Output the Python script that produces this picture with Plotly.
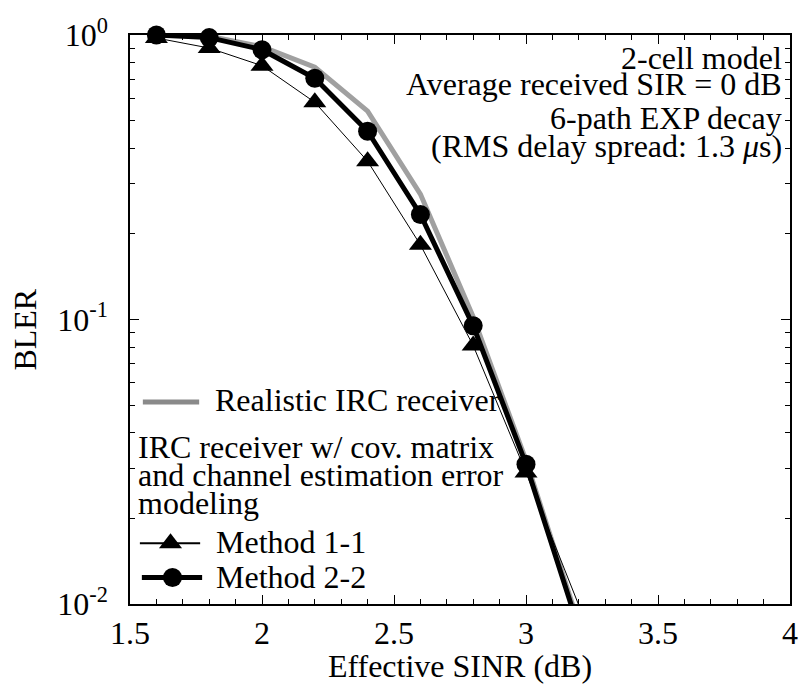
import plotly.graph_objects as go

# ---- data ----
sinr = [1.6, 1.8, 2.0, 2.2, 2.4, 2.6, 2.8, 3.0, 3.2]
bler_realistic = [1.0, 0.99, 0.91, 0.77, 0.54, 0.276, 0.102, 0.032, 0.0085]
bler_method11 = [0.976, 0.90, 0.78, 0.58, 0.36, 0.183, 0.081, 0.029, 0.0099]
bler_method22 = [1.0, 0.979, 0.888, 0.705, 0.459, 0.234, 0.095, 0.031, 0.0082]
n_marked = 8  # markers drawn on the first 8 points only

x_ticks = [1.5, 2, 2.5, 3, 3.5, 4]
x_ticklabels = ["1.5", "2", "2.5", "3", "3.5", "4"]
y_ticks = [0.01, 0.1, 1]
y_ticklabels = ["10<sup>-2</sup>", "10<sup>-1</sup>", "10<sup>0</sup>"]

info_lines = ["2-cell model", "Average received SIR = 0 dB",
              "6-path EXP decay", "(RMS delay spread: 1.3 <i>μ</i>s)"]

FONT = "Liberation Serif, Times New Roman, Times, serif"
FS = 32
W, H = 808, 684
L, R, T, B = 130, 798, 35, 615


def px(xp):
    return (xp - L) / (R - L)


def py(yp):
    return (B - yp) / (B - T)


def msizes(n, s):
    return [s if i < n_marked else 0 for i in range(n)]


NOLINE = dict(width=0, color="black")

fig = go.Figure()
fig.add_trace(go.Scatter(x=sinr, y=bler_realistic, mode="lines",
                         line=dict(color="#a0a0a0", width=5), showlegend=False))
fig.add_trace(go.Scatter(x=sinr, y=bler_method11, mode="lines+markers",
                         line=dict(color="black", width=1),
                         marker=dict(symbol="triangle-up", size=msizes(len(sinr), 20),
                                     color="black", opacity=1, line=NOLINE),
                         cliponaxis=False, showlegend=False))
fig.add_trace(go.Scatter(x=sinr, y=bler_method22, mode="lines+markers",
                         line=dict(color="black", width=5),
                         marker=dict(symbol="circle", size=msizes(len(sinr), 19),
                                     color="black", opacity=1, line=NOLINE),
                         cliponaxis=False, showlegend=False))

# legend samples (overlay pixel-space axes)
fig.add_trace(go.Scatter(x=[171], y=[553], xaxis="x2", yaxis="y2", mode="markers",
                         marker=dict(symbol="triangle-up", size=20, color="black", line=NOLINE),
                         cliponaxis=False, showlegend=False))
fig.add_trace(go.Scatter(x=[173], y=[588], xaxis="x2", yaxis="y2", mode="markers",
                         marker=dict(symbol="circle", size=19, color="black", line=NOLINE),
                         cliponaxis=False, showlegend=False))

shapes = [
    dict(type="line", xref="paper", yref="paper", x0=px(143), x1=px(200), y0=py(409), y1=py(409),
         line=dict(color="#8a8a8a", width=5)),
    dict(type="line", xref="paper", yref="paper", x0=px(140), x1=px(201), y0=py(553), y1=py(553),
         line=dict(color="black", width=2)),
    dict(type="line", xref="paper", yref="paper", x0=px(142), x1=px(203), y0=py(588), y1=py(588),
         line=dict(color="black", width=5)),
]

annotations = []
for txt, yc in zip(info_lines, [58, 85, 120, 148]):
    annotations.append(dict(text=txt, xref="paper", yref="paper", x=px(792), y=py(yc),
                            xanchor="right", yanchor="middle", showarrow=False,
                            font=dict(family=FONT, size=FS, color="black")))
leg_texts = [("Realistic IRC receiver", 214, 407),
             ("IRC receiver w/ cov. matrix", 136, 455),
             ("and channel estimation error", 136, 484),
             ("modeling", 136, 512),
             ("Method 1-1", 215, 552),
             ("Method 2-2", 215, 587)]
for txt, xl, yc in leg_texts:
    annotations.append(dict(text=txt, xref="paper", yref="paper", x=px(xl), y=py(yc),
                            xanchor="left", yanchor="middle", showarrow=False,
                            font=dict(family=FONT, size=FS, color="black")))
annotations.append(dict(text="BLER", xref="paper", yref="paper", x=px(24), y=py(335),
                        xanchor="center", yanchor="middle", textangle=-90, showarrow=False,
                        font=dict(family=FONT, size=FS, color="black")))

fig.update_layout(
    width=W, height=H,
    margin=dict(l=L, r=W - R, t=T, b=H - B, pad=0),
    paper_bgcolor="white", plot_bgcolor="rgba(0,0,0,0)",
    font=dict(family=FONT, size=FS, color="black"),
    shapes=shapes, annotations=annotations,
    xaxis=dict(range=[1.5, 4], tickvals=x_ticks, ticktext=x_ticklabels,
               ticks="inside", ticklen=9, tickwidth=1, tickcolor="black",
               showline=True, linecolor="black", linewidth=1.5, mirror="ticks",
               showgrid=False, zeroline=False,
               minor=dict(dtick=0.1, ticks="inside", ticklen=5, tickcolor="black", showgrid=False),
               title=dict(text="Effective SINR (dB)", standoff=0,
                          font=dict(family=FONT, size=FS))),
    yaxis=dict(type="log", range=[-2, 0], tickvals=y_ticks, ticktext=y_ticklabels,
               ticks="inside", ticklen=9, tickwidth=1, tickcolor="black",
               showline=True, linecolor="black", linewidth=1.5, mirror="ticks",
               showgrid=False, zeroline=False, ticklabelstandoff=14,
               minor=dict(dtick="D1", ticks="inside", ticklen=5, tickcolor="black", showgrid=False)),
    xaxis2=dict(domain=[0, 1], range=[L, R], anchor="y2", visible=False, showgrid=False),
    yaxis2=dict(domain=[0, 1], range=[B, T], anchor="x2", visible=False, showgrid=False),
)

fig.write_html("out.html")
